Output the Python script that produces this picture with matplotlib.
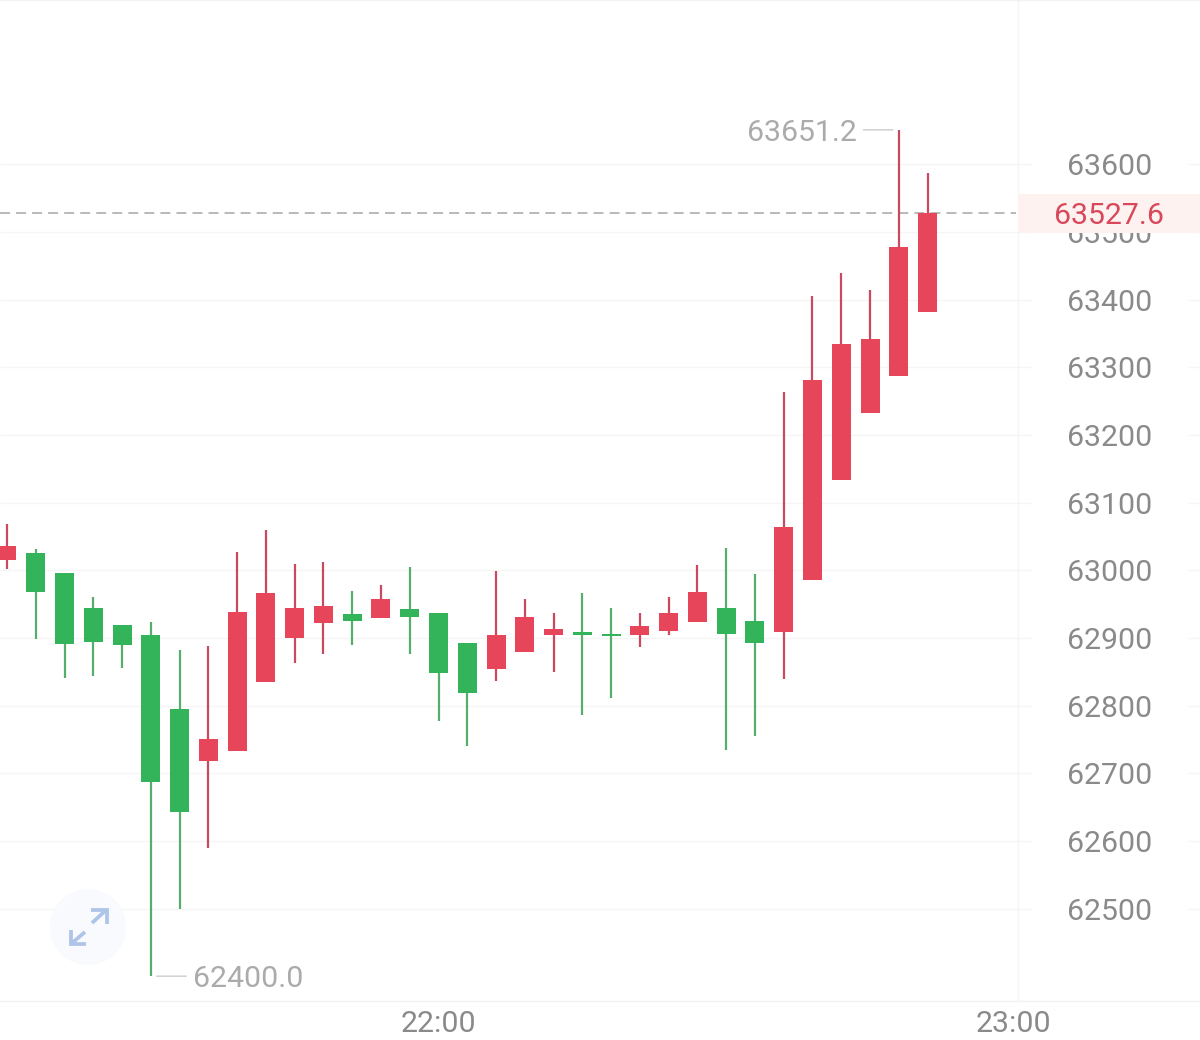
import matplotlib
matplotlib.use("Agg")
import matplotlib.pyplot as plt
from matplotlib.patches import Circle

# candle prices, oldest first
opens = [63015, 63025, 62996, 62944, 62919, 62904, 62795, 62718, 62733, 62835, 62900,
         62922, 62935, 62929, 62943, 62937, 62893, 62854, 62879, 62904, 62909, 62906,
         62904, 62910, 62923, 62945, 62925, 62909, 62986, 63134, 63233, 63287, 63382]
closes = [63036, 62967.5, 62891, 62894, 62890, 62687, 62642, 62751, 62938, 62966, 62945,
          62947, 62925, 62957, 62931, 62848, 62818, 62904, 62931.5, 62914, 62904, 62903,
          62917, 62936.5, 62968, 62906, 62893, 63064, 63281, 63335, 63342, 63478, 63527.6]
highs = [63068.5, 63031, 62996, 62961, 62919, 62924, 62882, 62888, 63027, 63060, 63010,
         63012, 62969, 62979, 63005, 62937, 62893, 62999, 62957, 62937, 62966, 62945,
         62936.5, 62960, 63008, 63033, 62995, 63264, 63406, 63439, 63414.5, 63651.2, 63588]
lows = [63002, 62898.5, 62841, 62844, 62855, 62400, 62499, 62590, 62733, 62835, 62863.5,
        62876, 62889, 62929, 62876, 62777, 62741, 62837, 62879, 62850, 62786, 62812,
        62887, 62904, 62923, 62735, 62755, 62839, 62986, 63134, 63233, 63287, 63382]

price_ticks = [63600, 63500, 63400, 63300, 63200, 63100, 63000, 62900, 62800, 62700, 62600, 62500]
time_ticks = [15, 35]
time_labels = ["22:00", "23:00"]
last_price = 63527.6
high_idx, high_price = 31, 63651.2
low_idx, low_price = 5, 62400.0

RED = "#e6455a"
GREEN = "#33b35a"
RED_WICK = "#c94a5f"
GREEN_WICK = "#55ae6c"
GRID = "#f5f5f5"
LABEL = "#8a8a8a"
NOTE = "#ababab"
FS = 21.8

plt.rcParams["font.family"] = ["Roboto", "DejaVu Sans"]

fig = plt.figure(figsize=(12, 10.4), dpi=100, facecolor="white")
ax = fig.add_axes([0, 39 / 1040, 1, 1001 / 1040])
ax.set_xlim(-0.243, 41.47)
ax.set_ylim(62363.3, 63843.2)

idx = list(range(len(opens)))
up = [c >= o for o, c in zip(opens, closes)]
body_colors = [RED if u else GREEN for u in up]
wick_colors = [RED_WICK if u else GREEN_WICK for u in up]

# gridlines stop around the price labels
grid_tf = ax.get_yaxis_transform()
ax.hlines(price_ticks, 0, 1032 / 1200, color=GRID, lw=1, transform=grid_tf, zorder=0.5)
ax.hlines(price_ticks, 1188 / 1200, 1, color=GRID, lw=1, transform=grid_tf, zorder=0.5)
ax.axvline(35.14, color=GRID, lw=1, zorder=0.5)

ax.axhline(last_price, xmax=1016 / 1200, color="#a6a6a6", lw=1.1, dashes=(6.5, 4), zorder=1)

ax.vlines(idx, lows, highs, colors=wick_colors, lw=1.6, zorder=2)
ax.bar(idx, [abs(c - o) for o, c in zip(opens, closes)], bottom=[min(o, c) for o, c in zip(opens, closes)],
       width=0.66, color=body_colors, zorder=2.1)

ax.set_yticks(price_ticks)
ax.set_yticklabels([str(p) for p in price_ticks])
ax.yaxis.tick_right()
ax.tick_params(axis="y", length=0, pad=-95.5, labelsize=FS, labelcolor=LABEL)
ax.set_xticks(time_ticks)
ax.set_xticklabels(time_labels)
ax.tick_params(axis="x", length=0, pad=6.5, labelsize=FS, labelcolor=LABEL)

for side in ["left", "right"]:
    ax.spines[side].set_visible(False)
for side in ["top", "bottom"]:
    ax.spines[side].set_color("#f2f2f2")
    ax.spines[side].set_linewidth(1)

# current price tag sits on top of the 63500 label
ax.axhspan(last_price - 28.8, last_price + 28.8, xmin=1018 / 1200, color="#fdf2f0", lw=0, zorder=3)
ax.text(1109 / 1200, last_price, f"{last_price:.1f}", transform=grid_tf, color="#d9475a",
        fontsize=FS, ha="center", va="center_baseline", zorder=4)

# high and low notes, leader lines drawn apart so they stay level
line_style = dict(arrowstyle="-", color="#cccccc", lw=1, shrinkA=0, shrinkB=4.3)
ax.annotate("", xy=(high_idx, high_price), xytext=(-25.5, 0), textcoords="offset points", arrowprops=line_style)
ax.annotate("", xy=(low_idx, low_price), xytext=(25.5, 0), textcoords="offset points", arrowprops=line_style)
ax.annotate(f"{high_price:.1f}", xy=(high_idx, high_price), xytext=(-30.5, 0), textcoords="offset points",
            ha="right", va="center_baseline", color=NOTE, fontsize=FS)
ax.annotate(f"{low_price:.1f}", xy=(low_idx, low_price), xytext=(30.5, 0), textcoords="offset points",
            ha="left", va="center_baseline", color=NOTE, fontsize=FS)

# expand button, drawn in pixel space since it is not data
deco = fig.add_axes([0, 0, 1, 1], facecolor="none")
deco.set_xlim(0, 1200)
deco.set_ylim(1040, 0)
deco.axis("off")
deco.add_patch(Circle((88, 927), 38, color="#f8fafe", lw=0))
arrow = dict(color="#aec4e8", lw=2.7, solid_capstyle="butt", solid_joinstyle="miter")
deco.plot([92, 105], [923, 911], **arrow)
deco.plot([91, 106.5, 106.5], [910, 910, 924], **arrow)
deco.plot([85, 72], [932, 943], **arrow)
deco.plot([71, 71, 86], [930, 944, 944], **arrow)

fig.savefig("out.png", dpi=100)
